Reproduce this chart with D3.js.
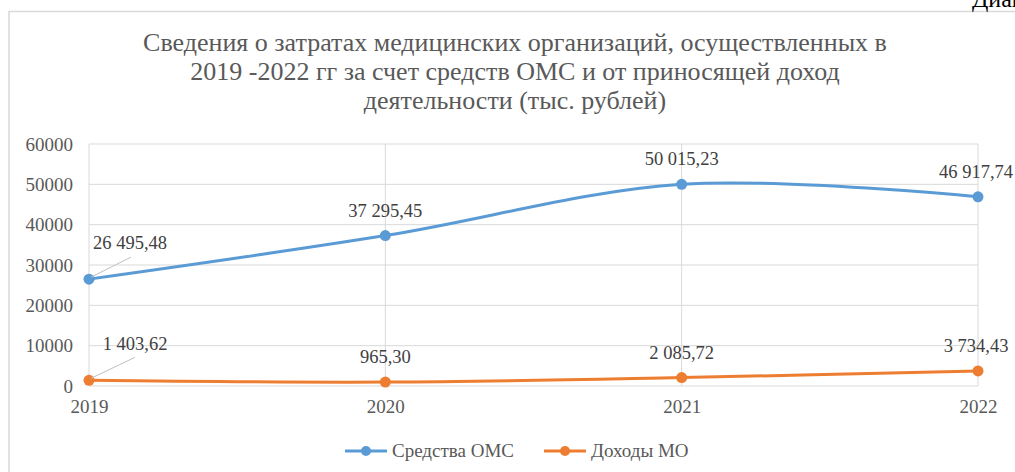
<!DOCTYPE html>
<html>
<head>
<meta charset="utf-8">
<script src="https://cdn.jsdelivr.net/npm/d3@7"></script>
<style>
  body { margin: 0; background: #fff; }
</style>
</head>
<body>
<div class="canvas"></div>
<script>
const years = ['2019', '2020', '2021', '2022'];
const omsValues = [26495.48, 37295.45, 50015.23, 46917.74];
const moValues = [1403.62, 965.30, 2085.72, 3734.43];
const yTicks = [0, 10000, 20000, 30000, 40000, 50000, 60000];
const titleLines = [
    'Сведения о затратах медицинских организаций, осуществленных в',
    '2019 -2022  гг за счет средств ОМС и от приносящей доход',
    'деятельности (тыс. рублей)'
];
const seriesNames = ['Средства ОМС', 'Доходы МО'];

const width = 1015;
const height = 472;
const colors = ['#5B9BD5', '#ED7D31'];
const FONT = 'Liberation Serif';

const svg = d3.select('.canvas')
    .append('svg')
    .attr('width', width)
    .attr('height', height)
    .attr('font-family', FONT);

// chart frame
svg.append('rect')
    .attr('x', 9)
    .attr('y', 11.5)
    .attr('width', 1030)
    .attr('height', 500)
    .attr('fill', 'none')
    .attr('stroke', '#d9d9d9')
    .attr('stroke-width', 1.5);

svg.append('text')
    .attr('x', 972)
    .attr('y', 7)
    .attr('font-family', FONT)
    .attr('font-size', 24)
    .attr('fill', '#000')
    .text('Диаг');

svg.append('g')
    .selectAll('text')
    .data(titleLines)
    .enter()
    .append('text')
    .attr('x', 515)
    .attr('y', (d, i) => 51 + i * 29)
    .attr('text-anchor', 'middle')
    .attr('font-family', FONT)
    .attr('font-size', 26)
    .attr('fill', '#595959')
    .text(d => d);

const x = d3.scalePoint()
    .domain(years)
    .range([89, 978]);

const y = d3.scaleLinear()
    .domain([0, 60000])
    .range([386, 144]);

////////// GRID ///////////////////
const grid = svg.append('g');

grid.selectAll('line.h')
    .data(yTicks)
    .enter()
    .append('line')
    .attr('x1', 89)
    .attr('x2', 978)
    .attr('y1', d => y(d))
    .attr('y2', d => y(d))
    .attr('stroke', '#d9d9d9')
    .attr('stroke-width', 1);

grid.selectAll('line.v')
    .data(years)
    .enter()
    .append('line')
    .attr('x1', d => x(d))
    .attr('x2', d => x(d))
    .attr('y1', y(60000))
    .attr('y2', y(0))
    .attr('stroke', '#d9d9d9')
    .attr('stroke-width', 1);

////////// AXES ///////////////////
const yAxis = d3.axisLeft(y)
    .tickValues(yTicks)
    .tickSize(0)
    .tickPadding(16)
    .tickFormat(d => d);

const gY = svg.append('g')
    .attr('transform', 'translate(89, 0)')
    .call(yAxis)
    .attr('font-family', FONT)
    .attr('font-size', 19);
gY.select('.domain').remove();
gY.selectAll('text')
    .attr('fill', '#595959');

const xAxis = d3.axisBottom(x)
    .tickSize(0)
    .tickPadding(14);

const gX = svg.append('g')
    .attr('transform', 'translate(0, 386)')
    .call(xAxis)
    .attr('font-family', FONT)
    .attr('font-size', 19);
gX.select('.domain').remove();
gX.selectAll('text')
    .attr('fill', '#595959');

////////// LINES ///////////////////
const series = [omsValues, moValues];

const line = d3.line()
    .x((d, i) => x(years[i]))
    .y(d => y(d))
    .curve(d3.curveCardinal.tension(0));

series.forEach((vals, s) => {
    svg.append('path')
        .datum(vals)
        .attr('d', line)
        .attr('fill', 'none')
        .attr('stroke', colors[s])
        .attr('stroke-width', 3)
        .attr('stroke-linecap', 'round');

    svg.selectAll('circle.s' + s)
        .data(vals)
        .enter()
        .append('circle')
        .attr('class', 's' + s)
        .attr('cx', (d, i) => x(years[i]))
        .attr('cy', d => y(d))
        .attr('r', 5.5)
        .attr('fill', colors[s]);
});

////////// LABELS ///////////////////
const fmt = v => {
    const parts = v.toFixed(2).split('.');
    return parts[0].replace(/\B(?=(\d{3})+(?!\d))/g, ' ') + ',' + parts[1];
};

// leader lines for 2019 labels
const leaders = [[omsValues[0], 22, 42], [moValues[0], 23, 46]];
leaders.forEach(l => {
    svg.append('line')
        .attr('x1', x(years[0]) + 2)
        .attr('y1', y(l[0]) - 2)
        .attr('x2', x(years[0]) + l[2])
        .attr('y2', y(l[0]) - l[1])
        .attr('stroke', '#bfbfbf')
        .attr('stroke-width', 1);
});

series.forEach((vals, s) => {
    svg.selectAll('text.lbl' + s)
        .data(vals)
        .enter()
        .append('text')
        .attr('x', (d, i) => {
            if (i === 0) return x(years[0]) + (s === 0 ? 41 : 46);
            if (i === 3) return x(years[3]) - 2;
            return x(years[i]);
        })
        .attr('y', (d, i) => {
            if (i === 0) return y(d) - 30;
            return y(d) - 19;
        })
        .attr('text-anchor', 'middle')
        .attr('font-family', FONT)
        .attr('font-size', 18.5)
        .attr('fill', '#404040')
        .text(d => fmt(d));
});

////////// LEGEND ///////////////////
const legend = svg.append('g');
const legendX = [345, 544];
seriesNames.forEach((name, s) => {
    const lx = legendX[s];
    legend.append('line')
        .attr('x1', lx)
        .attr('x2', lx + 42)
        .attr('y1', 451)
        .attr('y2', 451)
        .attr('stroke', colors[s])
        .attr('stroke-width', 3);
    legend.append('circle')
        .attr('cx', lx + 21)
        .attr('cy', 451)
        .attr('r', 5)
        .attr('fill', colors[s]);
    legend.append('text')
        .attr('x', lx + 47)
        .attr('y', 457)
        .attr('font-family', FONT)
        .attr('font-size', 19)
        .attr('fill', '#595959')
        .text(name);
});
</script>
</body>
</html>
